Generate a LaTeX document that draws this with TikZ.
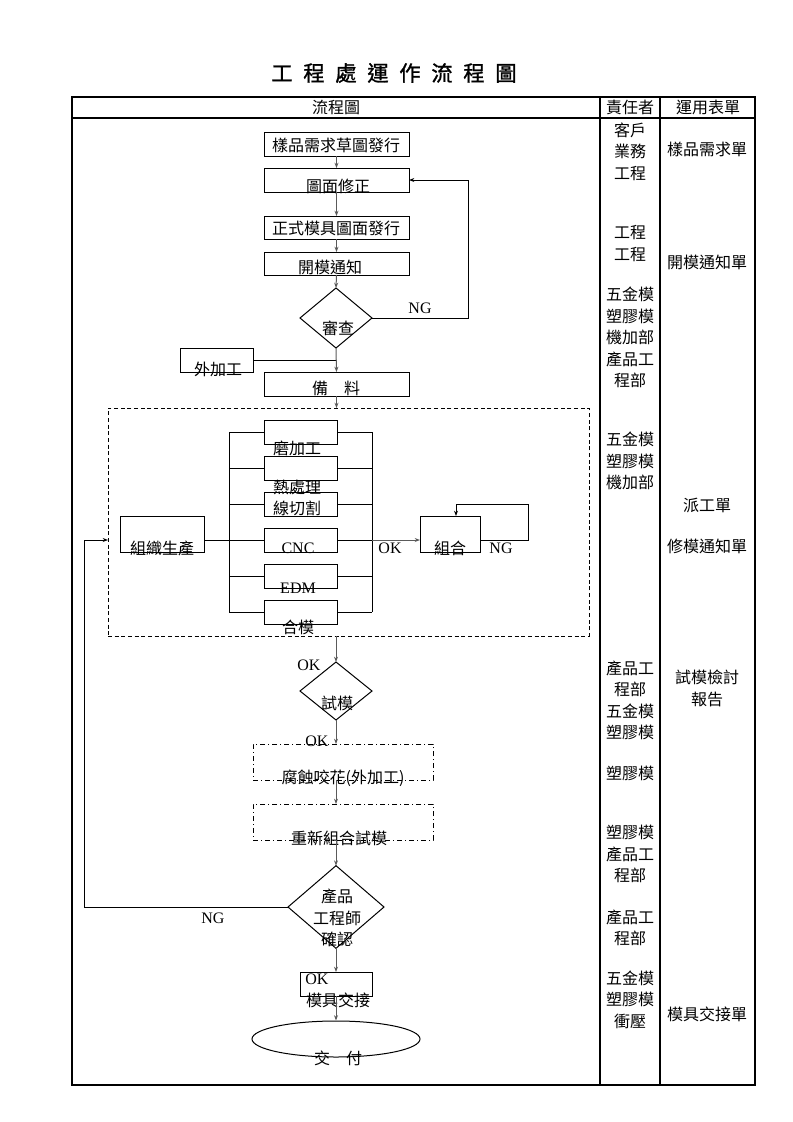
\documentclass[tikz,border=0pt]{standalone}
\usepackage{fontspec}
\setmainfont{Liberation Serif}
\newfontfamily\cjk{Noto Sans CJK TC}
\newfontfamily\cjkb[FakeBold=1.2]{Noto Sans CJK TC}
\usetikzlibrary{shapes.geometric,arrows.meta,fit,calc}
\definecolor{conn}{HTML}{5A5A5A}
\begin{document}
\begin{tikzpicture}[x=0.75pt,y=-0.75pt,
  box/.style={draw, line width=0.75pt, inner sep=0pt, outer sep=0pt},
  dbox/.style={box, dashed, dash pattern=on 3pt off 2pt},
  ddbox/.style={box, dash pattern=on 4pt off 2pt on 1pt off 2pt},
  dia/.style={diamond, draw, line width=0.75pt, inner sep=0pt, outer sep=0pt},
  txt/.style={font=\cjk\fontsize{12}{16.1}\selectfont, inner sep=0pt, align=center},
  lat/.style={font=\fontsize{12}{14}\selectfont, inner sep=0pt},
  arr/.style={draw=conn, line width=0.75pt, -{Stealth[length=4pt,width=3pt]}},
  ln/.style={draw=black, line width=0.75pt},
  tbl/.style={draw=black, line width=1pt}]
\useasboundingbox (0,0) rectangle (793,1122);

% title
\node[font=\cjkb\fontsize{16}{20}\selectfont, inner sep=0pt] (title) at (394,73)
  {工\hspace{8pt}程\hspace{8pt}處\hspace{8pt}運\hspace{8pt}作\hspace{8pt}流\hspace{8pt}程\hspace{8pt}圖};

% table
\node[tbl, fit={(72,97)(755,1085)}, inner sep=0pt] (table) {};
\coordinate (hl) at (72,118); \coordinate (hr) at (755,118);
\draw[tbl] (hl) -- (hr);
\coordinate (c1t) at (600,97); \coordinate (c1b) at (600,1085);
\coordinate (c2t) at (660,97); \coordinate (c2b) at (660,1085);
\draw[tbl] (c1t) -- (c1b);
\draw[tbl] (c2t) -- (c2b);
\node[txt] (h1) at (336,107) {流程圖};
\node[txt] (h2) at (630,107) {責任者};
\node[txt] (h3) at (708,107) {運用表單};

% top boxes
\node[box, fit={(264,132)(409,156)}] (b1) {};
\node[txt] (t1) at (336,145) {樣品需求草圖發行};
\node[box, fit={(264,168)(409,192)}] (b2) {};
\node[txt] (t2) at (338,186) {圖面修正};
\node[box, fit={(264,216)(409,239)}] (b3) {};
\node[txt] (t3) at (336,228) {正式模具圖面發行};
\node[box, fit={(264,252)(409,275)}] (b4) {};
\node[txt] (t4) at (330,267) {開模通知};
\node[dia, minimum width=54pt, minimum height=45pt] (d1) at (336,318) {};
\node[txt] (td1) at (338,328) {審查};
\node[lat] (ng1t) at (420,308) {NG};
\node[box, fit={(180,348)(253,372)}] (ext) {};
\node[txt] (text) at (218,369) {外加工};
\node[box, fit={(264,372)(409,396)}] (b5) {};
\node[txt] (t5) at (336,388) {備　料};

% connectors top
\draw[arr] (b1.south) -- (b2.north);
\draw[arr] (b2.south) -- (b3.north);
\draw[arr] (b3.south) -- (b4.north);
\draw[arr] (b4.south) -- (d1.north);
\coordinate (ng1) at (468,180);
\draw[arr, draw=black] (d1.east) -| (ng1) -- (b2.east);
\draw[ln] (ext.east) -- (ext.east -| d1.south);
\draw[arr] (d1.south) -- (b5.north);

% dashed production block
\node[dbox, fit={(108,408)(589,636)}] (dash) {};
\draw[arr] (b5.south) -- (b5.south |- dash.north);

\node[box, fit={(264,420)(337,444)}] (s1) {};
\node[box, fit={(264,456)(337,480)}] (s2) {};
\node[box, fit={(264,492)(337,516)}] (s3) {};
\node[box, fit={(264,528)(337,552)}] (s4) {};
\node[box, fit={(264,564)(337,588)}] (s5) {};
\node[box, fit={(264,600)(337,624)}] (s6) {};
\node[txt] (ts1) at (297,448) {磨加工};
\node[txt] (ts2) at (297,487) {熱處理};
\node[txt] (ts3) at (297,508) {線切割};
\node[lat] (ts4) at (298,548) {CNC};
\node[lat] (ts5) at (298,588) {EDM};
\node[txt] (ts6) at (298,627) {合模};

\coordinate (bl1) at (229,432); \coordinate (bl2) at (229,612);
\coordinate (br1) at (372,432); \coordinate (br2) at (372,612);
\draw[ln] (bl1) -- (bl2);
\draw[ln] (br1) -- (br2);
\foreach \s in {s1,s2,s3,s4,s5,s6}{
  \draw[ln] (\s.west -| bl1) -- (\s.west);
  \draw[ln] (\s.east) -- (\s.east -| br1);
}
\node[box, fit={(120,516)(204,552)}] (org) {};
\node[txt] (torg) at (162,548) {組織生產};
\draw[ln] (org.east |- s4.west) -- (s4.west -| bl1);

\node[box, fit={(420,516)(480,552)}] (comb) {};
\node[txt] (tcomb) at (450,548) {組合};
\draw[arr] (s4.east -| br1) -- (s4.east -| comb.west);
\node[lat] (okc) at (390,548) {OK};
\coordinate (lp1) at (528,504); \coordinate (lp2) at (456,504);
\draw[arr, draw=black] (s4.east -| comb.east) -| (lp1) -- (lp2) -- (lp2 |- comb.north);
\node[lat] (ngc) at (501,548) {NG};

% trial
\node[dia, minimum width=54pt, minimum height=43.5pt] (d2) at (336,691) {};
\node[txt] (td2) at (337,703) {試模};
\node[lat] (ok1) at (309,665) {OK};
\draw[arr] (dash.south -| d2.north) -- (d2.north);

\node[ddbox, fit={(253,744)(433,780)}] (f1) {};
\node[txt] (tf1) at (343,778) {腐蝕咬花(外加工)};
\node[lat] (ok2) at (317,741) {OK};
\draw[arr] (d2.south) -- (d2.south |- f1.north);

\node[ddbox, fit={(253,804)(433,840)}] (f2) {};
\node[txt] (tf2) at (339,838) {重新組合試模};
\draw[arr] (f1.south -| d2.south) -- (f2.north -| d2.south);

\node[dia, minimum width=72pt, minimum height=62pt] (d3) at (336,907) {};
\node[txt] (td3) at (337,918) {產品\\工程師\\確認};
\draw[arr] (f2.south -| d3.north) -- (d3.north);
\coordinate (ng2) at (84,540);
\draw[arr, draw=black] (d3.west) -| (ng2) -- (ng2 -| dash.west);
\node[lat] (ng2t) at (213,918) {NG};

\node[box, fit={(300,972)(372,996)}] (b6) {};
\node[lat] (ok3) at (317,979) {OK};
\node[txt] (t6) at (338,1000) {模具交接};
\draw[arr] (d3.south) -- (b6.north);

\node[ellipse, draw, line width=0.75pt, inner sep=0pt, minimum width=126pt, minimum height=27pt] (el) at (336,1039) {};
\node[txt] (tel) at (338,1058) {交　付};
\draw[arr] (b6.south) -- (el.north);

% responsibility column
\node[txt] (r1) at (630,151.5) {客戶\\業務\\工程};
\node[txt] (r2) at (630,243.5) {工程\\工程};
\node[txt] (r3) at (630,337.5) {五金模\\塑膠模\\機加部\\產品工\\程部};
\node[txt] (r4) at (630,461) {五金模\\塑膠模\\機加部};
\node[txt] (r5) at (630,700.5) {產品工\\程部\\五金模\\塑膠模};
\node[txt] (r6) at (630,773) {塑膠模};
\node[txt] (r7) at (630,854) {塑膠模\\產品工\\程部};
\node[txt] (r8) at (630,928) {產品工\\程部};
\node[txt] (r9) at (630,999.5) {五金模\\塑膠模\\衝壓};

% forms column
\node[txt] (u1) at (707,149) {樣品需求單};
\node[txt] (u2) at (707,262) {開模通知單};
\node[txt] (u3) at (707,505) {派工單};
\node[txt] (u4) at (707,546) {修模通知單};
\node[txt] (u5) at (707,688.5) {試模檢討\\報告};
\node[txt] (u6) at (707,1014) {模具交接單};
\end{tikzpicture}
\end{document}
